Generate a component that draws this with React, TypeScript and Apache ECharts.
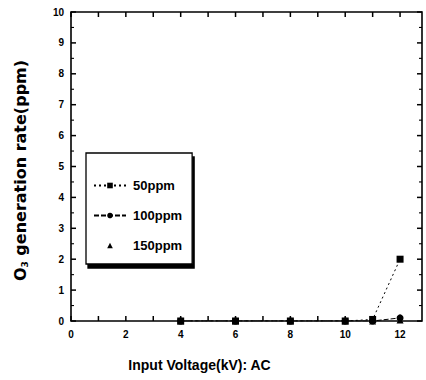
import React, { useEffect, useRef } from "react";
import * as echarts from "echarts";

// Input voltage (kV) sampled for each concentration
const voltages = [4, 6, 8, 10, 11, 12];
// O3 generation rate (ppm) per inlet concentration
const o3At50ppm = [0, 0, 0, 0, 0.05, 2.0];
const o3At100ppm = [0, 0, 0, 0, 0, 0.1];
const o3At150ppm = [0, 0, 0, 0, 0, 0.03];

const seriesNames = ["50ppm", "100ppm", "150ppm"];

// Tick positions on the frame (drawn inward on all four sides)
const xTickValues = [0, 1, 2, 3, 4, 5, 6, 7, 8, 9, 10, 11, 12];
const yTickValues = [0, 0.5, 1, 1.5, 2, 2.5, 3, 3.5, 4, 4.5, 5, 5.5, 6, 6.5, 7, 7.5, 8, 8.5, 9, 9.5, 10];

const X_MIN = 0;
const X_MAX = 12.8;
const Y_MIN = 0;
const Y_MAX = 10;

const pairs = (ys: number[]) => voltages.map((x, i) => [x, ys[i]]);

const FONT = "Liberation Sans";

const tickLine = (x1: number, y1: number, x2: number, y2: number, w: number) => ({
  type: "line",
  shape: { x1, y1, x2, y2 },
  style: { stroke: "#000", lineWidth: w },
});

export default function App() {
  const ref = useRef<HTMLDivElement>(null);
  useEffect(() => {
    if (!ref.current) return;
    const chart = echarts.init(ref.current, undefined, { renderer: "svg" });
    chart.setOption({
      animation: false,
      grid: {
        left: 71,
        right: 4,
        top: 12,
        bottom: 59,
        show: true,
        borderColor: "#000",
        borderWidth: 1.6,
        backgroundColor: "transparent",
      },
      xAxis: [
        {
          type: "value",
          min: X_MIN,
          max: X_MAX,
          interval: 1,
          axisLine: { show: false, onZero: false },
          axisTick: { show: false },
          splitLine: { show: false },
          name: "Input Voltage(kV): AC",
          nameLocation: "middle",
          nameGap: 37,
          nameTextStyle: { fontFamily: FONT, fontWeight: "bold", fontSize: 14, color: "#000", padding: [0, 94, 0, 0] },
          axisLabel: {
            color: "#000",
            fontFamily: FONT,
            fontWeight: "bold",
            fontSize: 10,
            margin: 8,
            showMaxLabel: false,
            formatter: (v: number) => (Number.isInteger(v) && v % 2 === 0 ? String(v) : ""),
          },
        },
      ],
      yAxis: [
        {
          type: "value",
          min: Y_MIN,
          max: Y_MAX,
          interval: 1,
          axisLine: { show: false, onZero: false },
          axisTick: { show: false },
          splitLine: { show: false },
          name: "O{sub|3} generation rate(ppm){pad|}",
          nameLocation: "middle",
          nameGap: 42,
          nameRotate: 90,
          nameTextStyle: {
            fontFamily: "DejaVu Sans",
            fontWeight: "bold",
            fontSize: 16,
            color: "#000",
            rich: {
              sub: { fontFamily: "DejaVu Sans", fontWeight: "bold", fontSize: 9, color: "#000", padding: [8, 0, 0, 0] },
              pad: { width: 8 },
            },
          },
          axisLabel: { color: "#000", fontFamily: FONT, fontWeight: "bold", fontSize: 10, margin: 7 },
        },
      ],
      legend: {
        orient: "vertical",
        left: 86,
        top: 153,
        width: 104,
        height: 106,
        padding: [26, 10, 12, 7],
        itemGap: 17,
        itemWidth: 32,
        itemHeight: 7,
        backgroundColor: "#fff",
        borderColor: "#000",
        borderWidth: 1.3,
        shadowColor: "#000",
        shadowBlur: 0,
        shadowOffsetX: 2,
        shadowOffsetY: 4,
        data: seriesNames,
        textStyle: { fontFamily: FONT, fontWeight: "bold", fontSize: 13, color: "#000", padding: [0, 0, 0, 2] },
      },
      series: [
        {
          name: "xFrameTicks",
          type: "custom",
          silent: true,
          clip: false,
          data: xTickValues.map((v) => [v, Y_MIN]),
          renderItem: (_params: any, api: any) => {
            const v = api.value(0);
            const b = api.coord([v, Y_MIN]);
            const t = api.coord([v, Y_MAX]);
            return {
              type: "group",
              children: [
                tickLine(b[0], b[1], b[0], b[1] - 5, 1.5),
                tickLine(t[0], t[1], t[0], t[1] + 5, 1.5),
              ],
            };
          },
          z: 1,
        },
        {
          name: "yFrameTicks",
          type: "custom",
          silent: true,
          clip: false,
          data: yTickValues.map((v) => [X_MIN, v]),
          renderItem: (_params: any, api: any) => {
            const v = api.value(1);
            const len = Number.isInteger(v) ? 5 : 3;
            const w = Number.isInteger(v) ? 1.5 : 1.1;
            const l = api.coord([X_MIN, v]);
            const r = api.coord([X_MAX, v]);
            return {
              type: "group",
              children: [
                tickLine(l[0], l[1], l[0] + len, l[1], w),
                tickLine(r[0], r[1], r[0] - len, r[1], w),
              ],
            };
          },
          z: 1,
        },
        {
          name: seriesNames[0],
          type: "line",
          data: pairs(o3At50ppm),
          symbol: "rect",
          symbolSize: 7,
          itemStyle: { color: "#000" },
          lineStyle: { color: "#000", width: 1, type: [2, 3] },
          z: 3,
        },
        {
          name: seriesNames[1],
          type: "line",
          data: pairs(o3At100ppm),
          symbol: "circle",
          symbolSize: 7,
          itemStyle: { color: "#000" },
          lineStyle: { color: "#000", width: 1, type: [5, 2] },
          z: 3,
        },
        {
          name: seriesNames[2],
          type: "line",
          data: pairs(o3At150ppm),
          symbol: "triangle",
          symbolSize: 7,
          itemStyle: { color: "#000" },
          lineStyle: { color: "#000", width: 0, opacity: 0 },
          z: 3,
        },
      ],
    });
    return () => chart.dispose();
  }, []);
  return (
    <div
      ref={ref}
      style={{ position: "fixed", left: 0, top: 0, width: 426, height: 380, background: "#fff" }}
    />
  );
}
